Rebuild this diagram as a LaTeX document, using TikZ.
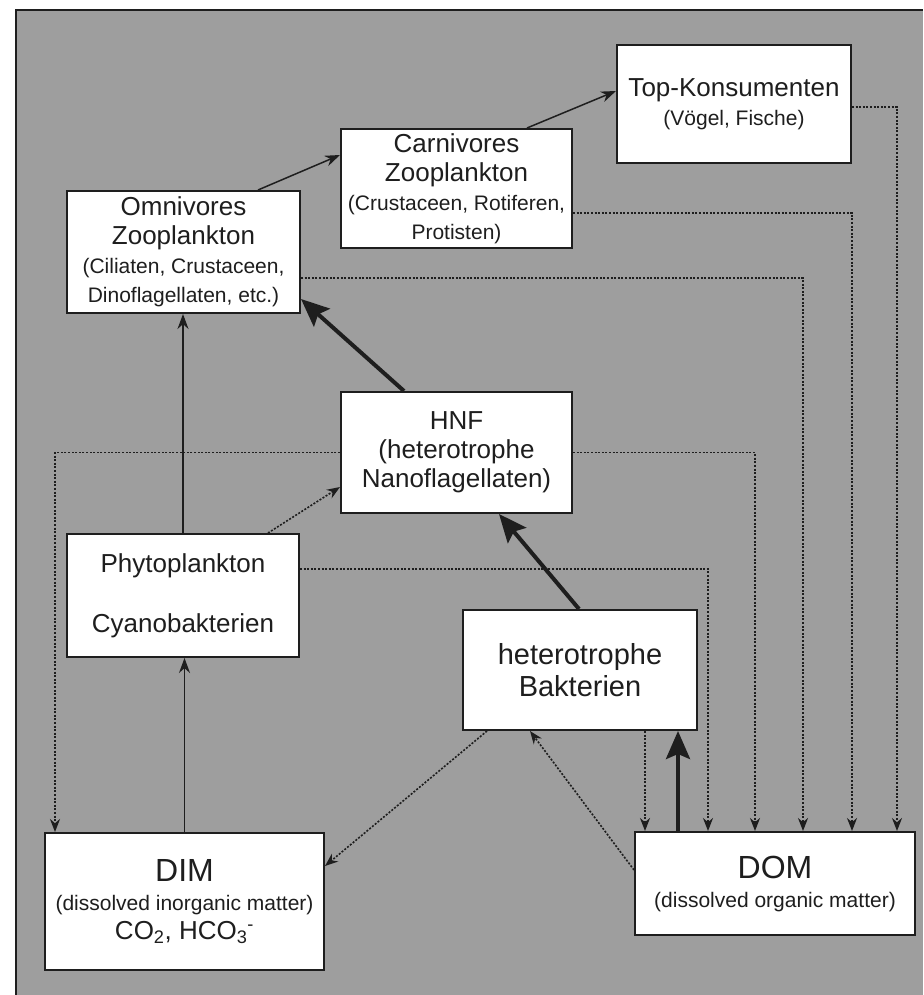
\documentclass[tikz,border=0pt]{standalone}
\usepackage{fontspec}
\setmainfont{Liberation Sans}
\usetikzlibrary{arrows.meta}
\definecolor{bg}{RGB}{158,158,158}
\definecolor{ink}{RGB}{30,30,30}
\newcommand{\klein}[1]{{\fontsize{21}{25}\selectfont #1}}
\newcommand{\gross}[1]{{\fontsize{32}{36}\selectfont #1}}

\begin{document}
\begin{tikzpicture}[
      x=1pt, y=-1pt,
      box/.style={draw=ink, fill=white, line width=2pt, align=center, inner sep=0pt,
                  text=ink, font=\fontsize{26}{29}\selectfont},
      feed/.style={draw=ink, line width=1.5pt, -{Stealth[length=15pt,width=11pt]}},
      main/.style={draw=ink, line width=4pt, -{Stealth[length=28pt,width=24pt,inset=5pt]}},
      loss/.style={draw=ink, line width=1.6pt, dash pattern=on 2pt off 1.6pt,
                   -{Stealth[length=13pt,width=10pt]}}
    ]
    \useasboundingbox (0,0) rectangle (923,995);
    % Draw the background.
    \fill[bg] (16,10) rectangle (923,995);
    \draw[ink, line width=2pt] (16,995) -- (16,10) -- (923,10);
    % Draw the compartments.
    \node[box, minimum width=234pt, minimum height=118pt] (top) at (734,104)
        {Top-Konsumenten\\ \klein{(Vögel, Fische)}};
    \node[box, minimum width=231pt, minimum height=119pt] (carn) at (456.5,188.5)
        {Carnivores\\ Zooplankton\\ \klein{(Crustaceen, Rotiferen,}\\ \klein{Protisten)}};
    \node[box, minimum width=233pt, minimum height=122pt] (omni) at (183.5,252)
        {Omnivores\\ Zooplankton\\ \klein{(Ciliaten, Crustaceen,}\\ \klein{Dinoflagellaten, etc.)}};
    \node[box, minimum width=231pt, minimum height=121pt] (hnf) at (456.5,452.5)
        {HNF\\ (heterotrophe\\ Nanoflagellaten)};
    \node[box, minimum width=232pt, minimum height=123pt] (phyto) at (183,595.5)
        {Phytoplankton\\[31pt] Cyanobakterien};
    \node[box, minimum width=234pt, minimum height=120pt,
          font=\fontsize{29}{32}\selectfont] (bakt) at (580,670)
        {heterotrophe\\ Bakterien};
    \node[box, minimum width=279pt, minimum height=137pt] (dim) at (184.5,901.5)
        {\gross{DIM}\\ \klein{(dissolved inorganic matter)}\\
         CO\textsubscript{2}, HCO\textsubscript{3}\textsuperscript{-}};
    \node[box, minimum width=280pt, minimum height=103pt] (dom) at (775,883.5)
        {\gross{DOM}\\ \klein{(dissolved organic matter)}};
    % Draw the grazing chain.
    \draw[feed] ([xshift=74.5pt]omni.north) -- ([yshift=33.5pt]carn.west);
    \draw[feed] ([xshift=70.5pt]carn.north) -- ([yshift=13pt]top.west);
    \draw[feed] (phyto.north) -- (phyto.north |- omni.south);
    \draw[feed] (dim.north) -- (dim.north |- phyto.south);
    % Draw the microbial loop.
    \draw[main] ([xshift=-52.5pt]hnf.north) -- ([yshift=15pt]omni.south east);
    \draw[main] ([xshift=-1pt]bakt.north) -- ([xshift=42.5pt]hnf.south);
    \draw[main] ([xshift=-97pt]dom.north) -- ([xshift=-97pt]dom.north |- bakt.south);
    % Draw the losses.
    \draw[loss] ([xshift=85pt]phyto.north) -- ([yshift=-34.5pt]hnf.west);
    \draw[loss] ([xshift=-93pt]bakt.south) -- ([yshift=35.5pt]dim.east);
    \draw[loss] ([yshift=13.5pt]dom.west) -- ([xshift=-50pt]bakt.south);
    \draw[loss] ([xshift=65pt]bakt.south) -- ([xshift=65pt]bakt.south |- dom.north);
    \draw[loss] (hnf.west) -| ([xshift=11pt]dim.north west);
    \draw[loss] (hnf.east) -| ([xshift=121pt]dom.north west);
    \draw[loss] ([yshift=26.5pt]phyto.east) -| ([xshift=74pt]dom.north west);
    \draw[loss] ([yshift=-26pt]omni.east) -| ([xshift=169pt]dom.north west);
    \draw[loss] ([yshift=-24.5pt]carn.east) -| ([xshift=218pt]dom.north west);
    \draw[loss] ([yshift=-3pt]top.east) -| ([xshift=263pt]dom.north west);
\end{tikzpicture}
\end{document}
